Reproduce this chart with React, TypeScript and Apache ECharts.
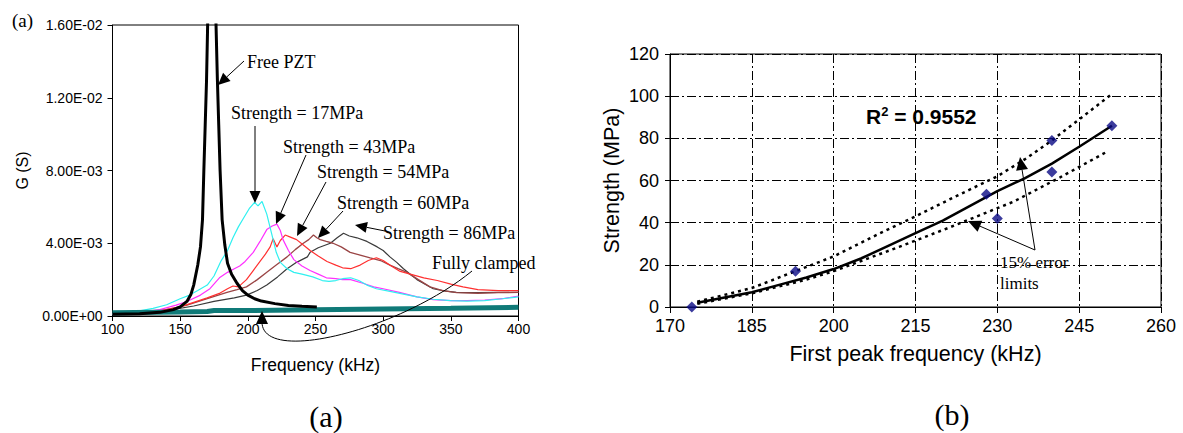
import React, { useEffect, useRef } from "react";
import * as echarts from "echarts";

const W = 1183;
const H = 433;

// ---------- Chart (a): conductance spectra ----------
const freqRangeA = [100, 400];
const freqStepA = 50;
const gRangeA = [0, 0.016];
const gStepA = 0.004;

const freePZT: [number, number][] = [
  [100, 0.1e-3], [120, 0.12e-3], [135, 0.2e-3], [145, 0.35e-3], [150, 0.5e-3], [155, 0.8e-3],
  [158, 1.2e-3], [160, 1.7e-3], [163, 2.8e-3], [165, 3.8e-3], [166.5, 5.3e-3], [167.5, 8e-3],
  [168.5, 10.5e-3], [169.5, 13e-3], [170.3, 16e-3], [172, 22e-3], [173.5, 26e-3], [175, 22e-3],
  [176.5, 16e-3], [177.5, 13e-3], [178.5, 10.5e-3], [179.5, 8e-3], [181, 5.3e-3], [183, 3.9e-3],
  [185, 2.9e-3], [188, 2.3e-3], [192, 1.8e-3], [196, 1.4e-3], [200, 1.15e-3], [205, 0.95e-3],
  [210, 0.82e-3], [220, 0.68e-3], [230, 0.58e-3], [240, 0.53e-3], [251, 0.5e-3],
];

const mpa17: [number, number][] = [
  [100, 0.12e-3], [110, 0.18e-3], [120, 0.28e-3], [130, 0.42e-3], [140, 0.62e-3], [150, 0.95e-3],
  [157, 1.15e-3], [163, 1.4e-3], [170, 1.7e-3], [175, 2.2e-3], [180, 3.0e-3], [185, 3.6e-3],
  [189, 4.3e-3], [193, 4.9e-3], [197, 5.4e-3], [201, 5.9e-3], [205, 6.25e-3], [207.5, 6.05e-3],
  [210.5, 6.3e-3], [214, 5.6e-3], [218, 4.4e-3], [221, 3.5e-3], [224, 2.95e-3], [229, 2.6e-3],
  [234, 2.4e-3], [240, 2.3e-3], [248, 2.15e-3], [255, 1.95e-3], [260, 1.9e-3], [265, 1.95e-3],
  [270, 2.05e-3], [276, 2.1e-3], [282, 1.95e-3], [288, 1.7e-3], [295, 1.5e-3], [305, 1.35e-3],
  [315, 1.2e-3], [325, 1.05e-3], [337, 0.92e-3], [350, 0.85e-3], [362, 0.82e-3], [375, 0.85e-3],
  [388, 0.95e-3], [400, 1.05e-3],
];

const mpa43: [number, number][] = [
  [100, 0.1e-3], [120, 0.2e-3], [135, 0.35e-3], [147, 0.6e-3], [155, 0.8e-3], [165, 1.15e-3],
  [172, 1.5e-3], [179, 2.1e-3], [185, 2.4e-3], [190, 2.6e-3], [194, 2.75e-3], [198, 3.0e-3],
  [204, 3.5e-3], [209, 4.1e-3], [214, 4.75e-3], [218, 4.95e-3], [221.5, 5.05e-3], [224, 4.7e-3],
  [226, 4.2e-3], [230, 3.6e-3], [234, 3.1e-3], [240, 2.75e-3], [246, 2.5e-3], [252, 2.3e-3],
  [258, 2.1e-3], [265, 2.05e-3], [270, 2.0e-3], [276, 2.0e-3], [285, 1.8e-3], [293, 1.6e-3],
  [300, 1.5e-3], [312, 1.3e-3], [325, 1.05e-3], [337, 0.9e-3], [350, 0.85e-3], [362, 0.85e-3],
  [375, 0.88e-3], [388, 0.95e-3], [400, 1.1e-3],
];

const mpa54: [number, number][] = [
  [100, 0.1e-3], [120, 0.18e-3], [135, 0.3e-3], [150, 0.5e-3], [160, 0.75e-3], [170, 1.0e-3],
  [179.5, 1.26e-3], [185, 1.5e-3], [189, 1.65e-3], [193, 1.6e-3], [199, 2.0e-3], [204, 2.5e-3],
  [209, 3.0e-3], [213, 3.4e-3], [216.5, 3.8e-3], [218.7, 4.25e-3], [221.5, 3.8e-3], [224, 4.15e-3],
  [227.6, 4.45e-3], [231, 4.35e-3], [236, 4.2e-3], [241, 3.9e-3], [246, 3.6e-3], [252, 3.3e-3],
  [258.5, 3.0e-3], [265, 2.8e-3], [270, 2.65e-3], [276, 2.6e-3], [283, 2.8e-3], [289, 3.05e-3],
  [295, 3.2e-3], [300, 3.05e-3], [306, 2.75e-3], [312.6, 2.45e-3], [320, 2.3e-3], [330, 2.1e-3],
  [340, 1.95e-3], [350, 1.75e-3], [359, 1.6e-3], [370, 1.45e-3], [385, 1.4e-3], [400, 1.4e-3],
];

const mpa60: [number, number][] = [
  [100, 0.1e-3], [120, 0.18e-3], [140, 0.35e-3], [155, 0.6e-3], [170, 0.95e-3], [184.6, 1.3e-3],
  [192, 1.45e-3], [199, 1.6e-3], [207, 2.0e-3], [214, 2.4e-3], [221, 2.8e-3], [229, 3.25e-3],
  [235, 3.65e-3], [241, 4.0e-3], [245, 4.2e-3], [248.5, 4.45e-3], [251, 4.3e-3], [253.5, 4.2e-3],
  [258, 4.1e-3], [263, 4.0e-3], [269, 3.8e-3], [275.6, 3.5e-3], [283, 3.35e-3], [290.4, 3.2e-3],
  [298, 3.05e-3], [305, 2.8e-3], [311, 2.6e-3], [317.6, 2.4e-3], [326, 2.0e-3], [334.6, 1.6e-3],
  [344, 1.4e-3], [354.4, 1.28e-3], [370, 1.25e-3], [385, 1.28e-3], [400, 1.3e-3],
];

const mpa86: [number, number][] = [
  [100, 0.1e-3], [120, 0.15e-3], [140, 0.3e-3], [160, 0.55e-3], [175, 0.8e-3], [190, 1.0e-3],
  [199, 1.15e-3], [207, 1.4e-3], [214, 1.7e-3], [222, 2.15e-3], [229, 2.6e-3], [236, 2.95e-3],
  [244, 3.25e-3], [246, 3.5e-3], [252, 3.75e-3], [261, 4.0e-3], [266, 4.3e-3], [270.7, 4.55e-3],
  [275, 4.4e-3], [280.6, 4.3e-3], [288, 4.1e-3], [295.6, 3.8e-3], [300, 3.6e-3], [305, 3.25e-3],
  [310, 2.95e-3], [315, 2.6e-3], [320, 2.3e-3], [325, 2.0e-3], [331, 1.75e-3], [337, 1.5e-3],
  [345, 1.38e-3], [354, 1.3e-3], [370, 1.28e-3], [385, 1.3e-3], [400, 1.3e-3],
];

const fullyClamped: [number, number][] = [
  [100, 0.18e-3], [150, 0.22e-3], [170, 0.25e-3], [175, 0.3e-3], [200, 0.3e-3],
  [250, 0.34e-3], [300, 0.38e-3], [350, 0.42e-3], [400, 0.48e-3],
];

// ---------- Chart (b): strength vs first peak frequency ----------
const freqRangeB = [170, 260];
const freqStepB = 15;
const strengthRangeB = [0, 120];
const strengthStepB = 20;

const pointFreq = [174, 193, 228, 230, 240, 240, 251];
const pointStrength = [0, 17, 53.5, 42, 64, 79, 86];

const fitFreq = [175, 180, 185, 190, 195, 200, 205, 210, 215, 220, 225, 230, 235, 240, 245, 251];
const fitStrength = [2, 4.5, 7, 10.5, 14, 18, 23, 29, 35, 41, 48, 55, 61, 68, 76, 86];

const upperFreq = [175, 185, 193, 200, 208.5, 215, 222, 230, 235, 240, 245, 251];
const upperStrength = [2.5, 9, 17, 24, 35, 43, 52, 62, 70, 79, 89, 101];

const lowerFreq = [175, 185, 195, 200, 212, 221, 233, 241.5, 250];
const lowerStrength = [1.5, 6.5, 13, 17, 28.5, 37.5, 50, 61.5, 73.5];

const SANS = "'Liberation Sans', Arial, sans-serif";
const SERIF = "'Liberation Serif', 'Times New Roman', serif";

function sci(v: number): string {
  if (v === 0) return "0.00E+00";
  const e = Math.floor(Math.log10(Math.abs(v)) + 1e-9);
  const m = v / Math.pow(10, e);
  return m.toFixed(2) + "E" + (e < 0 ? "-" : "+") + String(Math.abs(e)).padStart(2, "0");
}

function arrow(x1: number, y1: number, x2: number, y2: number, headLen = 12, headW = 5.5, lw = 1) {
  const dx = x2 - x1;
  const dy = y2 - y1;
  const len = Math.hypot(dx, dy);
  const ux = dx / len;
  const uy = dy / len;
  const bx = x2 - ux * headLen;
  const by = y2 - uy * headLen;
  const px = -uy * headW;
  const py = ux * headW;
  return [
    { type: "line", shape: { x1, y1, x2: bx, y2: by }, style: { stroke: "#000", lineWidth: lw }, z: 100 },
    {
      type: "polygon",
      shape: { points: [[x2, y2], [bx + px, by + py], [bx - px, by - py]] },
      style: { fill: "#000" },
      z: 100,
    },
  ];
}

function txt(text: string, x: number, y: number, size: number, family: string, align = "left", extra: any = {}) {
  return {
    type: "text",
    x,
    y,
    z: 100,
    style: { text, fill: "#000", fontSize: size, fontFamily: family, align, verticalAlign: "middle", ...extra },
  };
}

const lineSeries = (name: string, data: [number, number][], color: string, width: number) => ({
  name,
  type: "line",
  xAxisIndex: 0,
  yAxisIndex: 0,
  data,
  showSymbol: false,
  symbol: "none",
  clip: true,
  lineStyle: { color, width },
  itemStyle: { color },
});

export default function App() {
  const ref = useRef<HTMLDivElement>(null);

  useEffect(() => {
    document.body.style.margin = "0";
    if (!ref.current) return;
    const chart = echarts.init(ref.current, undefined, { renderer: "svg", width: W, height: H });

    const x0B = freqRangeB[0];
    const axisLineStyle = { show: true, onZero: false, lineStyle: { color: "#000", width: 1 } };
    const dashDot = { color: "#000", width: 1, type: [9, 3, 2, 3] };

    const graphics: any[] = [
      txt("(a)", 12, 20, 19, SERIF),
      txt("Free PZT", 247, 62, 18, SERIF),
      txt("Strength = 17MPa", 231, 113, 18, SERIF),
      txt("Strength = 43MPa", 283, 147, 18, SERIF),
      txt("Strength = 54MPa", 317, 172, 18, SERIF),
      txt("Strength = 60MPa", 337, 203, 18, SERIF),
      txt("Strength = 86MPa", 383, 233, 18, SERIF),
      txt("Fully clamped", 432, 263, 18, SERIF),
      ...arrow(244, 61, 218, 85),
      ...arrow(255, 126, 255, 203),
      ...arrow(306, 155, 276, 224),
      ...arrow(326, 182, 297, 236),
      ...arrow(343, 211, 318, 238),
      ...arrow(385, 231, 355, 225),
      {
        type: "bezierCurve",
        z: 100,
        shape: { x1: 472, y1: 271, cpx1: 400, cpy1: 330, cpx2: 262, cpy2: 365, x2: 262, y2: 322 },
        style: { stroke: "#000", lineWidth: 1, fill: "none" },
      },
      {
        type: "polygon",
        z: 100,
        shape: { points: [[262, 311], [256, 324], [268, 324]] },
        style: { fill: "#000" },
      },
      {
        type: "text",
        x: 866,
        y: 116,
        z: 100,
        style: {
          text: "{r|R}{s|2}{r| = 0.9552}",
          verticalAlign: "middle",
          rich: {
            r: { fontSize: 21, fontFamily: SANS, fill: "#000", fontWeight: "bold" },
            s: { fontSize: 13, fontFamily: SANS, fill: "#000", fontWeight: "bold", verticalAlign: "top", padding: [0, 0, 10, 0] },
          },
        },
      },
      txt("15% error", 1000, 262, 17, SERIF),
      txt("limits", 1000, 283, 17, SERIF),
      ...arrow(1035, 250, 1020, 157, 13, 6),
      ...arrow(1035, 250, 968, 221, 13, 6),
      txt("(a)", 326, 416, 30, SERIF, "center"),
      txt("(b)", 952, 414, 30, SERIF, "center"),
    ];

    chart.setOption({
      animation: false,
      backgroundColor: "#fff",
      textStyle: { fontFamily: SANS },
      grid: [
        { left: 112.5, top: 25, width: 406, height: 291, show: true, borderColor: "#000", borderWidth: 1, backgroundColor: "transparent" },
        { left: 670, top: 54, width: 491, height: 253, show: true, borderColor: "#000", borderWidth: 1, backgroundColor: "transparent" },
      ],
      xAxis: [
        {
          type: "value",
          gridIndex: 0,
          min: freqRangeA[0],
          max: freqRangeA[1],
          interval: freqStepA,
          axisLine: axisLineStyle,
          axisTick: { show: true, length: 5, lineStyle: { color: "#000" } },
          axisLabel: { color: "#000", fontSize: 14, fontFamily: SANS, margin: 6 },
          splitLine: { show: false },
          name: "Frequency (kHz)",
          nameLocation: "middle",
          nameGap: 40,
          nameTextStyle: { color: "#000", fontSize: 17.5, fontFamily: SANS },
        },
        {
          type: "value",
          gridIndex: 1,
          min: freqRangeB[0] - x0B,
          max: freqRangeB[1] - x0B,
          interval: freqStepB,
          axisLine: axisLineStyle,
          axisTick: { show: true, length: 6, lineStyle: { color: "#000" } },
          axisLabel: { color: "#000", fontSize: 18, fontFamily: SANS, margin: 10, formatter: (v: number) => String(v + x0B) },
          splitLine: { show: true, lineStyle: dashDot },
          name: "First peak frequency (kHz)",
          nameLocation: "middle",
          nameGap: 36,
          nameTextStyle: { color: "#000", fontSize: 21.5, fontFamily: SANS },
        },
      ],
      yAxis: [
        {
          type: "value",
          gridIndex: 0,
          min: gRangeA[0],
          max: gRangeA[1],
          interval: gStepA,
          axisLine: axisLineStyle,
          axisTick: { show: true, length: 5, lineStyle: { color: "#000" } },
          axisLabel: { color: "#000", fontSize: 14, fontFamily: SANS, margin: 10, formatter: sci },
          splitLine: { show: false },
          name: "G (S)",
          nameLocation: "middle",
          nameGap: 82,
          nameTextStyle: { color: "#000", fontSize: 16, fontFamily: SANS },
        },
        {
          type: "value",
          gridIndex: 1,
          min: strengthRangeB[0],
          max: strengthRangeB[1],
          interval: strengthStepB,
          axisLine: axisLineStyle,
          axisTick: { show: true, length: 5, lineStyle: { color: "#000" } },
          axisLabel: { color: "#000", fontSize: 18, fontFamily: SANS, margin: 11 },
          splitLine: { show: true, lineStyle: dashDot },
          name: "Strength (MPa)",
          nameLocation: "middle",
          nameGap: 47,
          nameTextStyle: { color: "#000", fontSize: 21.5, fontFamily: SANS },
        },
      ],
      series: [
        lineSeries("Strength = 86MPa", mpa86, "#3a3a3a", 1.2),
        lineSeries("Strength = 60MPa", mpa60, "#9a4545", 1.3),
        lineSeries("Strength = 54MPa", mpa54, "#ff3030", 1.2),
        lineSeries("Strength = 43MPa", mpa43, "#ff30ff", 1.2),
        lineSeries("Strength = 17MPa", mpa17, "#30f0f0", 1.2),
        lineSeries("Fully clamped", fullyClamped, "#0f7a78", 5),
        lineSeries("Free PZT", freePZT, "#000000", 3),
        {
          name: "+15%",
          type: "line",
          xAxisIndex: 1,
          yAxisIndex: 1,
          data: upperFreq.map((f, i) => [f - x0B, upperStrength[i]]),
          showSymbol: false,
          symbol: "none",
          lineStyle: { color: "#000", width: 2.5, type: [3, 4] },
        },
        {
          name: "-15%",
          type: "line",
          xAxisIndex: 1,
          yAxisIndex: 1,
          data: lowerFreq.map((f, i) => [f - x0B, lowerStrength[i]]),
          showSymbol: false,
          symbol: "none",
          lineStyle: { color: "#000", width: 2.5, type: [3, 4] },
        },
        {
          name: "Fit",
          type: "line",
          xAxisIndex: 1,
          yAxisIndex: 1,
          data: fitFreq.map((f, i) => [f - x0B, fitStrength[i]]),
          showSymbol: false,
          symbol: "none",
          lineStyle: { color: "#000", width: 2.5 },
        },
        {
          name: "Measured",
          type: "scatter",
          xAxisIndex: 1,
          yAxisIndex: 1,
          data: pointFreq.map((f, i) => [f - x0B, pointStrength[i]]),
          symbol: "diamond",
          symbolSize: 11,
          itemStyle: { color: "#0a0a84" },
          z: 10,
        },
      ],
      graphic: graphics,
    });

    return () => {
      chart.dispose();
    };
  }, []);

  return <div ref={ref} style={{ width: W, height: H }} />;
}
